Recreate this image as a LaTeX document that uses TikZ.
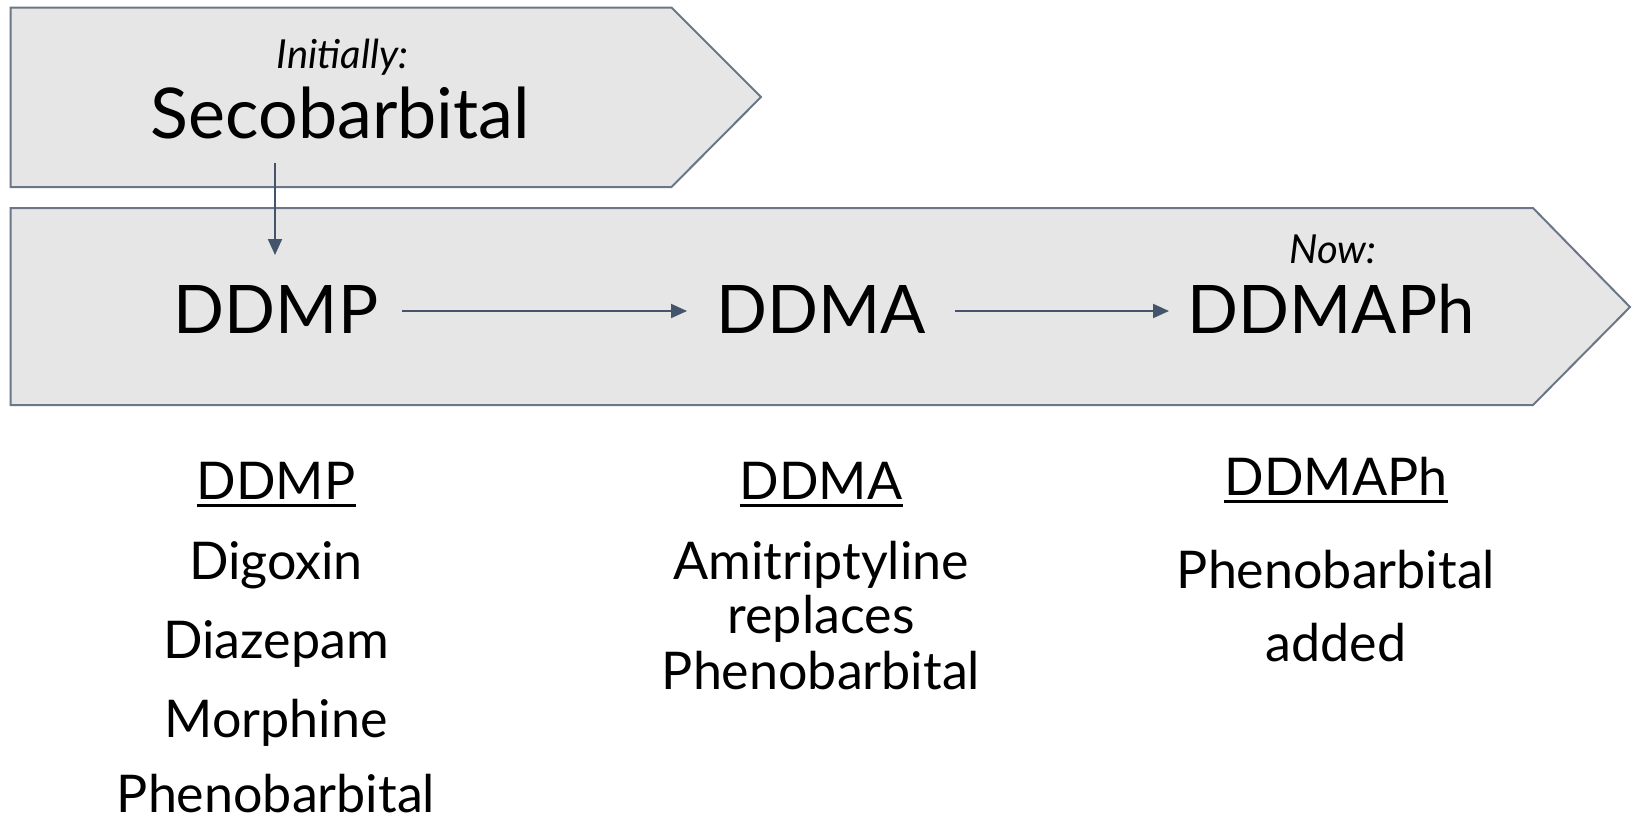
\documentclass[tikz,border=0pt]{standalone}
\usepackage{fontspec}
\setmainfont{Lato}
\usetikzlibrary{arrows.meta}
\definecolor{boxfill}{HTML}{E7E6E6}
\definecolor{boxline}{HTML}{6B7686}
\definecolor{arrowc}{HTML}{44546A}
\tikzset{
  chevron/.style={fill=boxfill, draw=boxline, line width=2pt, line join=miter},
  big/.style={inner sep=0pt, anchor=base, font=\fontsize{67}{67}\selectfont},
  seco/.style={inner sep=0pt, anchor=base, font=\fontsize{70}{70}\selectfont},
  lab/.style={inner sep=0pt, anchor=base, font=\fontsize{40}{40}\selectfont\itshape},
  item/.style={inner sep=0pt, anchor=base, font=\fontsize{52}{52}\selectfont},
  ul/.style={line width=3pt, black},
  conn/.style={arrowc, line width=2pt, -{Triangle[length=16pt,width=14pt]}}
}
\begin{document}
\begin{tikzpicture}[x=1pt,y=-1pt]
\useasboundingbox (0,0) rectangle (1633,823);
% chevrons
\draw[chevron] (10.5,7.5) -- (671.5,7.5) -- (761,97) -- (671.5,187) -- (10.5,187) -- cycle;
\draw[chevron] (10.5,208) -- (1533,208) -- (1630,307) -- (1533,405) -- (10.5,405) -- cycle;
% top texts
\node[lab] (init) at (342.6,68.5) {Initially:};
\node[seco] (seco) at (340.5,138.5) {Secobarbital};
\coordinate (secoS) at (275,162.5);
% main row
\node[big] (ddmp) at (276,333) {DDMP};
\node[big] (ddma) at (821,333) {DDMA};
\node[big] (ddmaph) at (1331,333) {DDMAPh};
\node[lab] (now) at (1333,263.5) {Now:};
\coordinate (ddmpN) at (275,255);
\coordinate (a1s) at (402,311);
\coordinate (a1e) at (687,311);
\coordinate (a2s) at (955,311);
\coordinate (a2e) at (1169,311);
\draw[conn] (secoS) -- (ddmpN);
\draw[conn] (a1s) -- (a1e);
\draw[conn] (a2s) -- (a2e);
% lower column 1
\node[item] (h1) at (276,499) {DDMP};
\draw[ul] ([yshift=-6pt]h1.base west) -- ([yshift=-6pt]h1.base east);
\node[item] (c1a) at (276,579) {Digoxin};
\node[item] (c1b) at (276,658) {Diazepam};
\node[item] (c1c) at (276,737) {Morphine};
\node[item] (c1d) at (276,812) {Phenobarbital};
% lower column 2
\node[item] (h2) at (821,499) {DDMA};
\draw[ul] ([yshift=-6pt]h2.base west) -- ([yshift=-6pt]h2.base east);
\node[item] (c2a) at (821,579) {Amitriptyline};
\node[item] (c2b) at (821,633) {replaces};
\node[item] (c2c) at (821,689.5) {Phenobarbital};
% lower column 3
\node[item] (h3) at (1336,495) {DDMAPh};
\draw[ul] ([yshift=-6pt]h3.base west) -- ([yshift=-6pt]h3.base east);
\node[item] (c3a) at (1336,588) {Phenobarbital};
\node[item] (c3b) at (1336,661) {added};
\end{tikzpicture}
\end{document}
